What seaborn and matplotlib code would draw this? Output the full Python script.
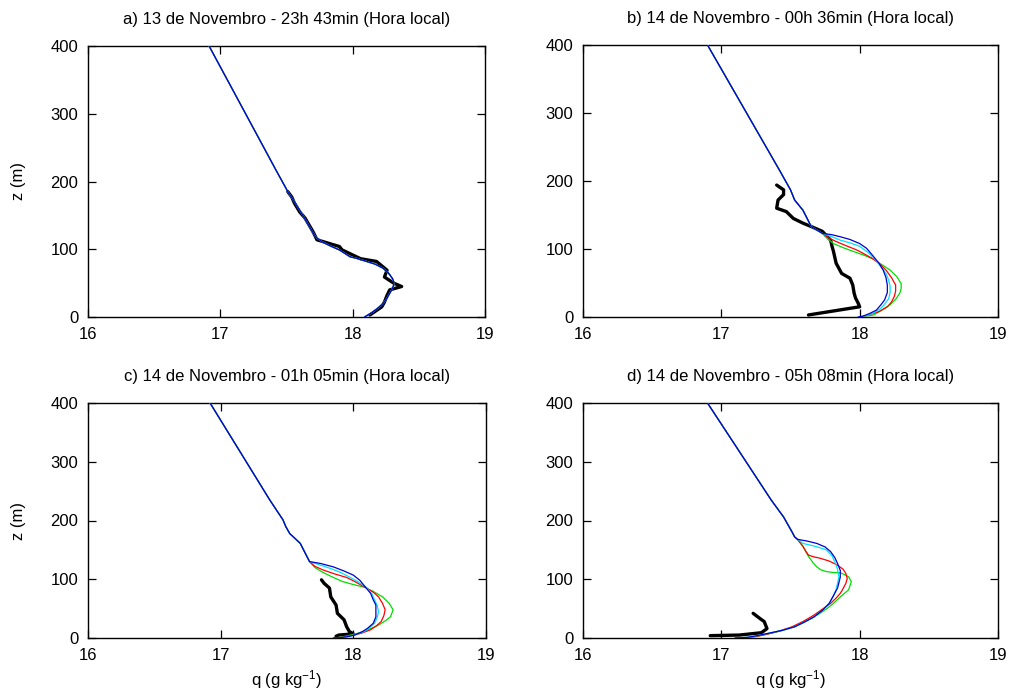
import numpy as np
import pandas as pd
import matplotlib
matplotlib.use("Agg")
import matplotlib.pyplot as plt
import seaborn as sns

# ---------------------------------------------------------------- data
Q_TICKS = [16, 17, 18, 19]
Z_TICKS = [0, 100, 200, 300, 400]

TITLES = [
    "a) 13 de Novembro - 23h 43min (Hora local)",
    "b) 14 de Novembro - 00h 36min (Hora local)",
    "c) 14 de Novembro - 01h 05min (Hora local)",
    "d) 14 de Novembro - 05h 08min (Hora local)",
]

# panel a: all model runs coincide
a_mod_z = [410, 400, 217, 185, 173, 148, 118, 111, 105, 99, 89, 86, 78, 72, 65, 57,
           52, 47, 42, 35, 28, 20, 13, 7, 0]
a_mod_q = [16.89, 16.915, 17.42, 17.51, 17.55, 17.63, 17.72, 17.77, 17.83, 17.90,
           17.98, 18.04, 18.17, 18.23, 18.27, 18.30, 18.31, 18.31, 18.30, 18.28,
           18.26, 18.23, 18.19, 18.15, 18.09]
a_obs_z = [185, 177, 168, 155, 146, 126, 114, 104, 99, 86, 82, 69, 59, 50, 45, 40,
           32, 22, 15, 3]
a_obs_q = [17.51, 17.54, 17.56, 17.60, 17.64, 17.70, 17.73, 17.90, 17.92, 18.06,
           18.18, 18.26, 18.24, 18.31, 18.37, 18.28, 18.26, 18.24, 18.22, 18.13]

# panel b
b_up_z = [410, 400, 216, 187, 172, 157, 133, 123]
b_up_q = [16.895, 16.90, 17.42, 17.50, 17.53, 17.59, 17.65, 17.73]
b_blue_z = [123, 121, 118, 114, 108, 101, 89, 79, 69, 58, 47, 36, 25, 17, 10, 5, 1, 0]
b_blue_q = [17.73, 17.80, 17.86, 17.93, 18.00, 18.05, 18.10, 18.14, 18.17, 18.19,
            18.20, 18.20, 18.18, 18.15, 18.12, 18.07, 18.02, 17.99]
b_cyan_z = [123, 118, 113, 109, 104, 95, 85, 75, 64, 54, 45, 36, 27, 19, 12, 6, 2, 0]
b_cyan_q = [17.73, 17.80, 17.86, 17.93, 18.00, 18.06, 18.11, 18.15, 18.19, 18.21,
            18.22, 18.22, 18.21, 18.18, 18.15, 18.10, 18.05, 17.99]
b_red_z = [123, 116, 111, 105, 98.5, 92, 85, 77, 69, 58, 47, 38, 30, 22, 15, 8, 4, 1, 0]
b_red_q = [17.73, 17.78, 17.83, 17.90, 17.98, 18.04, 18.10, 18.15, 18.19, 18.23,
           18.26, 18.26, 18.25, 18.23, 18.20, 18.14, 18.08, 18.03, 17.99]
b_green_z = [123, 115, 108, 102, 96, 91, 85, 77, 69, 59, 49, 42, 35, 26, 18, 10, 3, 1, 0]
b_green_q = [17.73, 17.77, 17.81, 17.88, 17.96, 18.03, 18.10, 18.16, 18.22, 18.27,
             18.30, 18.30, 18.29, 18.26, 18.22, 18.16, 18.10, 18.04, 17.99]
b_obs_z = [194, 187, 180, 172, 160, 155, 145, 138, 133, 126, 113, 104, 97, 79, 64,
           57, 47, 35, 28, 20, 15, 3]
b_obs_q = [17.40, 17.45, 17.45, 17.41, 17.40, 17.47, 17.52, 17.59, 17.65, 17.73,
           17.79, 17.80, 17.81, 17.83, 17.87, 17.93, 17.95, 17.96, 17.97, 17.99,
           18.00, 17.63]

# panel c
c_up_z = [410, 400, 235, 201, 190, 178, 161, 130]
c_up_q = [16.905, 16.92, 17.37, 17.47, 17.49, 17.52, 17.60, 17.67]
c_blue_z = [130, 127, 121, 114, 107, 98, 87, 76, 65, 56, 48, 36, 25, 17, 11, 5, 2,
            0.5, 0]
c_blue_q = [17.67, 17.75, 17.85, 17.93, 18.00, 18.05, 18.09, 18.13, 18.15, 18.17,
            18.17, 18.17, 18.15, 18.11, 18.07, 18.01, 17.95, 17.90, 17.85]
c_cyan_z = [130, 125, 119, 112, 104, 95, 86, 75, 65, 55, 45, 35, 25, 17, 11, 6, 2,
            0.5, 0]
c_cyan_q = [17.67, 17.74, 17.82, 17.90, 17.97, 18.04, 18.10, 18.14, 18.16, 18.18,
            18.19, 18.18, 18.16, 18.12, 18.08, 18.02, 17.95, 17.90, 17.85]
c_red_z = [130, 122, 116, 109, 103, 95, 86, 78, 70, 59, 48, 38, 28, 20, 14, 8, 4, 1, 0]
c_red_q = [17.67, 17.71, 17.77, 17.86, 17.95, 18.02, 18.09, 18.15, 18.19, 18.22,
           18.24, 18.23, 18.21, 18.17, 18.13, 18.06, 17.98, 17.91, 17.85]
c_green_z = [130, 120, 113, 104, 96, 91, 86, 78, 70, 59, 48, 42, 36, 29, 22, 15, 9,
             4, 1, 0]
c_green_q = [17.67, 17.71, 17.76, 17.84, 17.92, 18.00, 18.09, 18.16, 18.22, 18.27,
             18.30, 18.29, 18.28, 18.24, 18.19, 18.12, 18.05, 17.96, 17.90, 17.85]
c_obs_z = [99, 93, 85, 70, 56, 42, 31, 19, 11, 7, 5, 3]
c_obs_q = [17.76, 17.78, 17.82, 17.83, 17.87, 17.88, 17.93, 17.95, 17.97, 18.00,
           17.89, 17.87]

# panel d
d_up_z = [410, 400, 235, 206, 181, 172, 168]
d_up_q = [16.895, 16.90, 17.36, 17.45, 17.51, 17.53, 17.55]
d_blue_z = [168, 165, 161, 155, 147, 137, 127, 115, 104, 94, 85, 72, 59, 47, 36, 27,
            19, 13, 8, 4, 1, 0]
d_blue_q = [17.55, 17.62, 17.69, 17.75, 17.79, 17.82, 17.84, 17.86, 17.86, 17.85,
            17.84, 17.81, 17.78, 17.73, 17.67, 17.60, 17.53, 17.44, 17.34, 17.26,
            17.19, 17.10]
d_cyan_z = [168, 165, 161, 156, 150, 140, 130, 117, 104, 93, 83, 71, 59, 47, 36, 27,
            19, 13, 8, 4, 1, 0]
d_cyan_q = [17.55, 17.57, 17.59, 17.68, 17.76, 17.80, 17.82, 17.84, 17.85, 17.84,
            17.83, 17.81, 17.78, 17.73, 17.67, 17.60, 17.53, 17.44, 17.34, 17.26,
            17.19, 17.10]
d_red_z = [168, 162, 156, 148, 141, 138, 136, 131, 124, 117, 110, 101, 93, 84, 76,
           68, 59, 49, 39, 28, 19, 12, 7, 3, 1, 0]
d_red_q = [17.55, 17.57, 17.59, 17.61, 17.63, 17.67, 17.71, 17.78, 17.84, 17.88,
           17.90, 17.91, 17.90, 17.88, 17.86, 17.83, 17.79, 17.73, 17.67, 17.59,
           17.51, 17.42, 17.34, 17.26, 17.19, 17.10]
d_green_z = [168, 162, 156, 147, 139, 129, 121, 116, 113, 111.5, 111, 107, 104, 96,
             89, 82, 76, 70, 61, 53, 43, 33, 25, 19, 12, 7, 3, 1, 0]
d_green_q = [17.55, 17.57, 17.59, 17.61, 17.63, 17.66, 17.69, 17.72, 17.76, 17.81,
             17.86, 17.90, 17.92, 17.94, 17.93, 17.92, 17.89, 17.86, 17.82, 17.78,
             17.72, 17.65, 17.58, 17.52, 17.43, 17.34, 17.26, 17.19, 17.10]
d_obs_z = [42, 33, 28, 16, 9, 5, 4]
d_obs_q = [17.23, 17.28, 17.31, 17.33, 17.29, 17.13, 16.92]

# ---------------------------------------------------------------- style
sns.set_theme(style="ticks")
plt.rcParams["font.family"] = ["Liberation Sans", "DejaVu Sans"]
plt.rcParams["mathtext.fontset"] = "custom"
plt.rcParams["mathtext.rm"] = "Liberation Sans"
plt.rcParams["mathtext.it"] = "Liberation Sans"
for key in ("text.color", "axes.labelcolor", "xtick.color", "ytick.color",
            "axes.edgecolor"):
    plt.rcParams[key] = "black"

COLORS = {"green": "#00dd00", "red": "#ff0000", "cyan": "#00e0ff", "blue": "#0000cc"}
ORDER = ["green", "red", "cyan", "blue"]

W, H = 1012, 695
fig = plt.figure(figsize=(W / 100, H / 100), dpi=100)

# axes boxes in pixels: left, right, top, bottom
boxes = [(88, 485, 46, 317), (583, 998, 45, 317),
         (88, 486, 403, 638), (583, 998, 403, 638)]


def runs(up_q, up_z, lowers):
    return {name: (up_q + lowers[name][0][1:], up_z + lowers[name][1][1:])
            for name in ORDER}


panels = [
    dict(model={c: (a_mod_q, a_mod_z) for c in ORDER}, obs=(a_obs_q, a_obs_z)),
    dict(model=runs(b_up_q, b_up_z, {"green": (b_green_q, b_green_z),
                                     "red": (b_red_q, b_red_z),
                                     "cyan": (b_cyan_q, b_cyan_z),
                                     "blue": (b_blue_q, b_blue_z)}),
         obs=(b_obs_q, b_obs_z)),
    dict(model=runs(c_up_q, c_up_z, {"green": (c_green_q, c_green_z),
                                     "red": (c_red_q, c_red_z),
                                     "cyan": (c_cyan_q, c_cyan_z),
                                     "blue": (c_blue_q, c_blue_z)}),
         obs=(c_obs_q, c_obs_z)),
    dict(model=runs(d_up_q, d_up_z, {"green": (d_green_q, d_green_z),
                                     "red": (d_red_q, d_red_z),
                                     "cyan": (d_cyan_q, d_cyan_z),
                                     "blue": (d_blue_q, d_blue_z)}),
         obs=(d_obs_q, d_obs_z)),
]

for i, (box, panel, title) in enumerate(zip(boxes, panels, TITLES)):
    l, r, t, b = box
    ax = fig.add_axes([l / W, 1 - b / H, (r - l) / W, (b - t) / H])

    # observed profile underneath, model runs on top
    oq, oz = panel["obs"]
    sns.lineplot(x=oq, y=oz, sort=False, estimator=None, color="black",
                 lw=2.4, ax=ax, zorder=2)
    for name in ORDER:
        q, z = panel["model"][name]
        sns.lineplot(x=q, y=z, sort=False, estimator=None, color=COLORS[name],
                     lw=0.9, ax=ax, zorder=3)

    ax.set_xlim(16, 19)
    ax.set_ylim(0, 400)
    ax.set_xticks(Q_TICKS)
    ax.set_yticks(Z_TICKS)
    ax.set_xticklabels([str(v) for v in Q_TICKS])
    ax.set_yticklabels([str(v) for v in Z_TICKS])
    ax.tick_params(direction="in", top=True, right=True, length=6, width=0.9,
                   labelsize=12, pad=7, colors="black")
    for s in ax.spines.values():
        s.set_visible(True)
        s.set_linewidth(1.0)
        s.set_color("black")
    ax.set_title(title, fontsize=12, pad=16, color="black")

    if i % 2 == 0:
        ax.set_ylabel("z (m)", fontsize=12)
        ax.yaxis.set_label_coords(-0.155, 0.5)
    else:
        ax.set_ylabel("")
    if i >= 2:
        ax.set_xlabel("q (g kg$^{-1}$)", fontsize=12)
        ax.xaxis.set_label_coords(0.5, -0.13)
    else:
        ax.set_xlabel("")

fig.savefig("out.png", dpi=100)
